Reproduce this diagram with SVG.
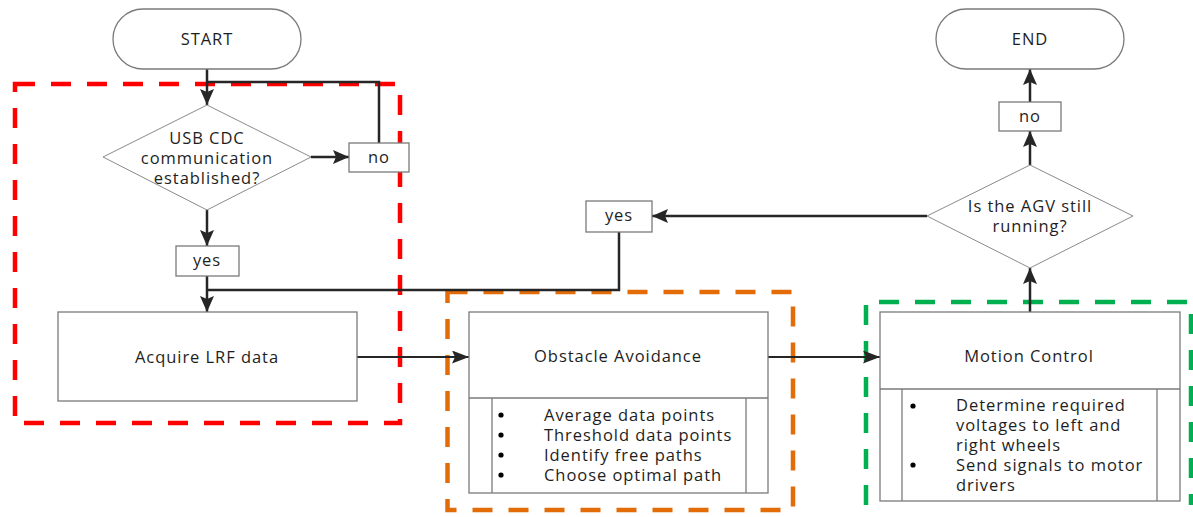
<svg xmlns="http://www.w3.org/2000/svg" width="1193" height="517" viewBox="0 0 1193 517">
<defs>
<marker id="ah" markerUnits="userSpaceOnUse" markerWidth="18" markerHeight="16" refX="16" refY="7" orient="auto">
<path d="M0,0 L16,7 L0,14 L3,7 z" fill="#262626"/>
</marker>
<marker id="ahs" markerUnits="userSpaceOnUse" markerWidth="18" markerHeight="16" refX="17" refY="6.5" orient="auto">
<path d="M0,0 L17,6.5 L0,13 L3,6.5 z" fill="#262626"/>
</marker>
<style>
text{font-family:"Open Sans","Liberation Sans",sans-serif;font-size:16.5px;fill:#1e1e1e;letter-spacing:0.95px}
.c{text-anchor:middle}
.box{fill:#fff;stroke:#7a7a7a;stroke-width:1.3}
.dia{fill:#fff;stroke:#8a8a8a;stroke-width:1}
.ln{fill:none;stroke:#262626;stroke-width:2.5}
.lt{fill:none;stroke:#262626;stroke-width:2}
.grp{fill:none;stroke-width:4.5;stroke-dasharray:20 16}
.bul{fill:#000}
</style>
</defs>
<rect width="1193" height="517" fill="#fff"/>

<g id="groups">
<rect x="15" y="84" width="385" height="339" class="grp" stroke="#ff0000"/>
<rect x="447.5" y="292" width="345.5" height="218" class="grp" stroke="#e36c09"/>
<path d="M866,505 V302 H1191 V505" class="grp" stroke="#00b050"/>
</g>

<g id="connectors">
<path d="M207,69 V105" class="ln" marker-end="url(#ah)"/>
<path d="M379,143 V82 H207" class="ln"/>
<path d="M311,157 H349" class="ln" marker-end="url(#ah)"/>
<path d="M207,210 V246" class="ln" marker-end="url(#ah)"/>
<path d="M207,276 V312" class="ln" marker-end="url(#ah)"/>
<path d="M207,290 H619 V232" class="ln"/>
<path d="M927,216 H652" class="ln" marker-end="url(#ah)"/>
<path d="M357,357 H469" class="lt" marker-end="url(#ahs)"/>
<path d="M768,357 H880" class="lt" marker-end="url(#ahs)"/>
<path d="M1030,312 V268" class="ln" marker-end="url(#ah)"/>
<path d="M1030,165 V131" class="ln" marker-end="url(#ah)"/>
<path d="M1030,102 V69" class="ln" marker-end="url(#ah)"/>
</g>

<g id="start">
<rect x="113" y="9" width="188" height="60" rx="30" class="box"/>
<text x="207" y="45" class="c">START</text>
</g>

<g id="usb-decision">
<polygon points="207,105 311,157 207,210 103,157" class="dia"/>
<text x="207" y="144" class="c">USB CDC</text>
<text x="207" y="164" class="c">communication</text>
<text x="207" y="184" class="c">established?</text>
</g>

<g id="no-1">
<rect x="349" y="143" width="60" height="29" class="box"/>
<text x="379" y="163" class="c">no</text>
</g>

<g id="yes-1">
<rect x="176" y="246" width="63" height="30" class="box"/>
<text x="207" y="266" class="c">yes</text>
</g>

<g id="acquire">
<rect x="58" y="312" width="299" height="89" class="box"/>
<text x="207" y="363" class="c">Acquire LRF data</text>
</g>

<g id="obstacle">
<rect x="469" y="312" width="299" height="181" class="box"/>
<line x1="469" y1="398" x2="768" y2="398" class="box"/>
<line x1="492" y1="398" x2="492" y2="493" class="box"/>
<line x1="746" y1="398" x2="746" y2="493" class="box"/>
<text x="618" y="362" class="c">Obstacle Avoidance</text>
<circle cx="501" cy="415" r="2.6" class="bul"/>
<circle cx="501" cy="435" r="2.6" class="bul"/>
<circle cx="501" cy="455" r="2.6" class="bul"/>
<circle cx="501" cy="475" r="2.6" class="bul"/>
<text x="544" y="421">Average data points</text>
<text x="544" y="441">Threshold data points</text>
<text x="544" y="461">Identify free paths</text>
<text x="544" y="481">Choose optimal path</text>
</g>

<g id="motion">
<rect x="880" y="312" width="300" height="189" class="box"/>
<line x1="880" y1="389" x2="1180" y2="389" class="box"/>
<line x1="902" y1="389" x2="902" y2="501" class="box"/>
<line x1="1157" y1="389" x2="1157" y2="501" class="box"/>
<text x="1029" y="362" class="c">Motion Control</text>
<circle cx="913" cy="406" r="2.6" class="bul"/>
<circle cx="913" cy="465" r="2.6" class="bul"/>
<text x="956" y="411">Determine required</text>
<text x="956" y="431">voltages to left and</text>
<text x="956" y="451">right wheels</text>
<text x="956" y="471">Send signals to motor</text>
<text x="956" y="491">drivers</text>
</g>

<g id="agv-decision">
<polygon points="1030,165 1133,216 1030,268 927,216" class="dia"/>
<text x="1030" y="212" class="c">Is the AGV still</text>
<text x="1030" y="232" class="c">running?</text>
</g>

<g id="yes-2">
<rect x="586" y="201" width="66" height="31" class="box"/>
<text x="619" y="221" class="c">yes</text>
</g>

<g id="no-2">
<rect x="999" y="102" width="62" height="29" class="box"/>
<text x="1030" y="122" class="c">no</text>
</g>

<g id="end">
<rect x="936" y="9" width="188" height="60" rx="30" class="box"/>
<text x="1030" y="45" class="c">END</text>
</g>
</svg>
